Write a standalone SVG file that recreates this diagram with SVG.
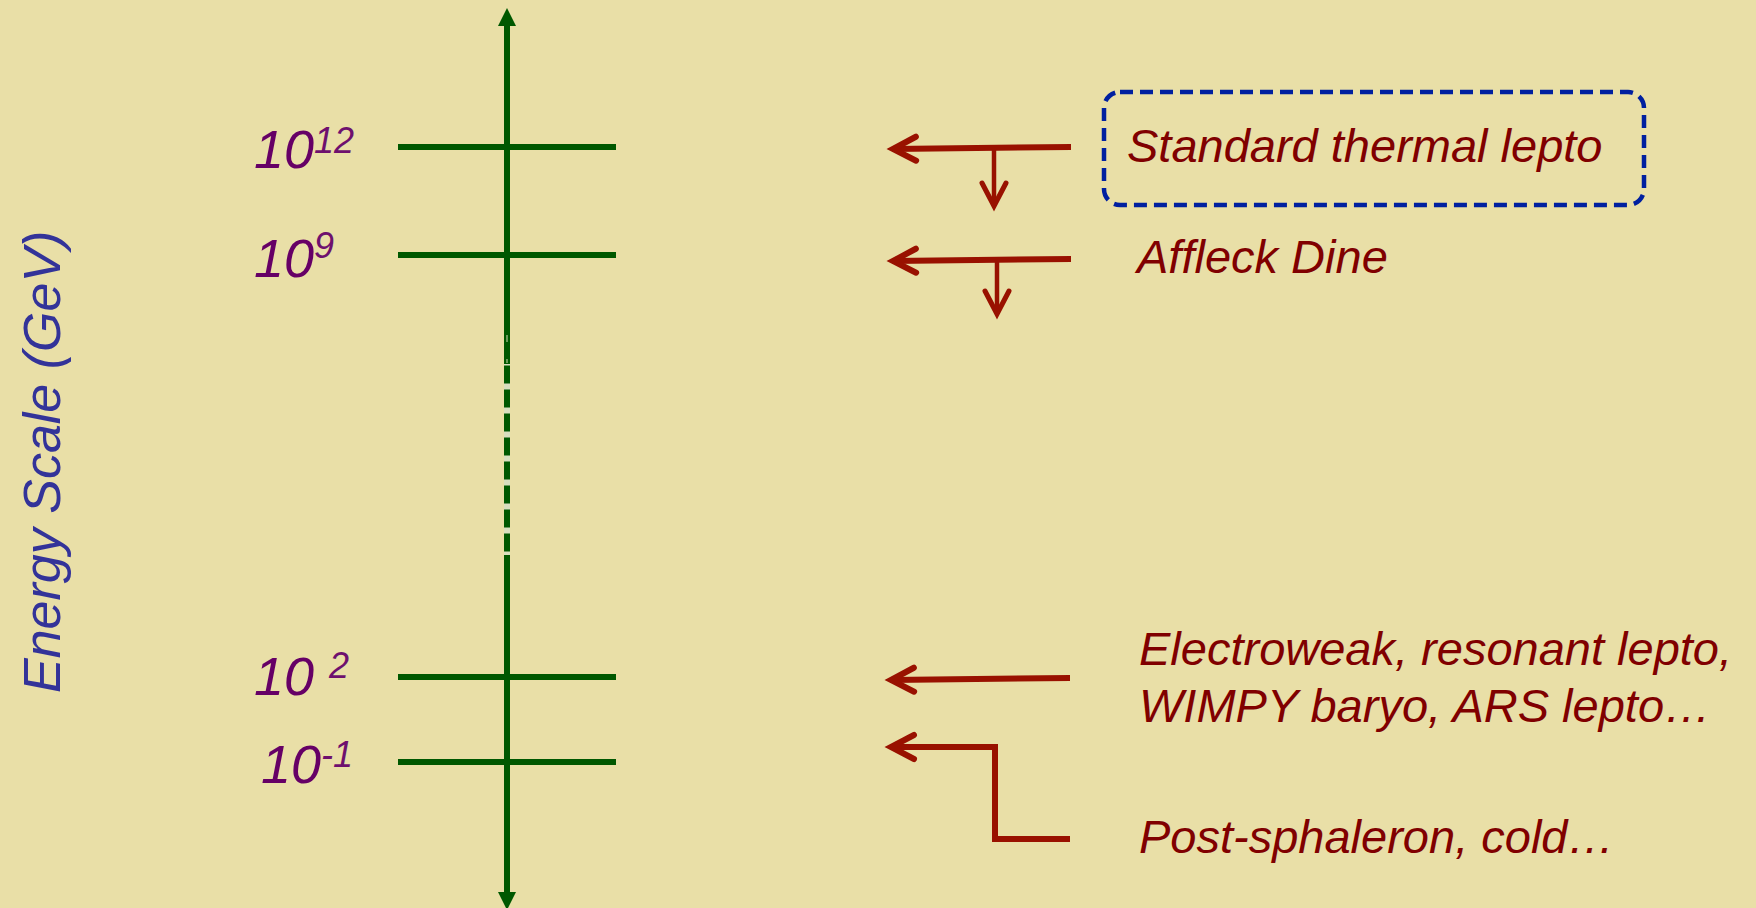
<svg xmlns="http://www.w3.org/2000/svg" width="1756" height="908" viewBox="0 0 1756 908">
  <defs>
    <style>
      .lbl { font-family: "Liberation Sans", Arial, sans-serif; font-style: italic; fill: #660066; font-size: 54px; }
      .sup { font-size: 36px; fill: #6e106e; }
      .desc { font-family: "Liberation Sans", Arial, sans-serif; font-style: italic; fill: #800000; font-size: 47px; }
      .axis-title { font-family: "Liberation Sans", Arial, sans-serif; font-style: italic; fill: #333399; font-size: 52px; }
      .tick { stroke: #005800; stroke-width: 6; fill: none; }
      .red { stroke: #991100; fill: none; stroke-linejoin: miter; }
      .redthick { stroke-width: 6; }
      .redthin { stroke-width: 4.5; }
    </style>
    <marker id="chev" viewBox="-30 -16 34 32" refX="0" refY="0" markerWidth="34" markerHeight="32" markerUnits="userSpaceOnUse" orient="auto" overflow="visible">
      <path d="M -23 -12 L 0 0 L -23 12" fill="none" stroke="#991100" stroke-width="6" stroke-linecap="round" stroke-linejoin="miter"/>
    </marker>
    <marker id="chevThin" viewBox="-30 -16 34 32" refX="0" refY="0" markerWidth="34" markerHeight="32" markerUnits="userSpaceOnUse" orient="auto" overflow="visible">
      <path d="M -23 -12 L 0 0 L -23 12" fill="none" stroke="#991100" stroke-width="5" stroke-linecap="round" stroke-linejoin="miter"/>
    </marker>
  </defs>

  <rect x="0" y="0" width="1756" height="908" fill="#e9dfa7"/>

  <g id="axis-title">
    <text class="axis-title" transform="translate(60,693) rotate(-90)">Energy Scale (GeV)</text>
  </g>

  <g id="axis">
    <line x1="507" y1="24" x2="507" y2="364" stroke="#005800" stroke-width="6"/>
    <line x1="507" y1="335" x2="507" y2="342" stroke="#6a9a5a" stroke-width="2"/>
    <line x1="507" y1="359" x2="507" y2="363" stroke="#6a9a5a" stroke-width="2"/>
    <line x1="507" y1="364" x2="507" y2="555" stroke="#d9dfbf" stroke-width="6"/>
    <line x1="507" y1="365.5" x2="507" y2="555" stroke="#005800" stroke-width="6" stroke-dasharray="18 6"/>
    <line x1="507" y1="555" x2="507" y2="894" stroke="#005800" stroke-width="6"/>
    <polygon points="507,8 498,26 516,26" fill="#005800"/>
    <polygon points="507,910 498,892 516,892" fill="#005800"/>
  </g>

  <g id="level-1e12">
    <line class="tick" x1="398" y1="147" x2="616" y2="147"/>
    <text class="lbl" x="254" y="168">10<tspan class="sup" dy="-15">12</tspan></text>
  </g>
  <g id="level-1e9">
    <line class="tick" x1="398" y1="255" x2="616" y2="255"/>
    <text class="lbl" x="254" y="277">10<tspan class="sup" dy="-19">9</tspan></text>
  </g>
  <g id="level-1e2">
    <line class="tick" x1="398" y1="677" x2="616" y2="677"/>
    <text class="lbl" x="254" y="695">10 <tspan class="sup" dy="-17">2</tspan></text>
  </g>
  <g id="level-1e-1">
    <line class="tick" x1="398" y1="762" x2="616" y2="762"/>
    <text class="lbl" x="261" y="783">10<tspan class="sup" dy="-16">-1</tspan></text>
  </g>

  <g id="node-standard-thermal">
    <rect x="1104" y="92" width="540" height="113" rx="16" ry="16" fill="none" stroke="#0020a0" stroke-width="4.5" stroke-dasharray="13 7"/>
    <text class="desc" x="1127" y="162">Standard thermal lepto</text>
  </g>
  <g id="node-affleck-dine">
    <text class="desc" x="1137" y="273">Affleck Dine</text>
  </g>
  <g id="node-electroweak">
    <text class="desc" x="1139" y="665">Electroweak, resonant lepto,</text>
    <text class="desc" x="1139" y="722">WIMPY baryo, ARS lepto…</text>
  </g>
  <g id="node-post-sphaleron">
    <text class="desc" x="1139" y="853">Post-sphaleron, cold…</text>
  </g>

  <g id="connectors">
    <line class="red redthick" x1="1071" y1="147" x2="893" y2="149" marker-end="url(#chev)"/>
    <line class="red redthin" x1="994" y1="148" x2="994" y2="206" marker-end="url(#chevThin)"/>
    <line class="red redthick" x1="1071" y1="259" x2="893" y2="261" marker-end="url(#chev)"/>
    <line class="red redthin" x1="997" y1="260" x2="997" y2="314" marker-end="url(#chevThin)"/>
    <line class="red redthick" x1="1070" y1="678" x2="891" y2="680" marker-end="url(#chev)"/>
    <polyline class="red redthick" points="1070,839 995,839 995,747 891,747" marker-end="url(#chev)"/>
  </g>
</svg>
